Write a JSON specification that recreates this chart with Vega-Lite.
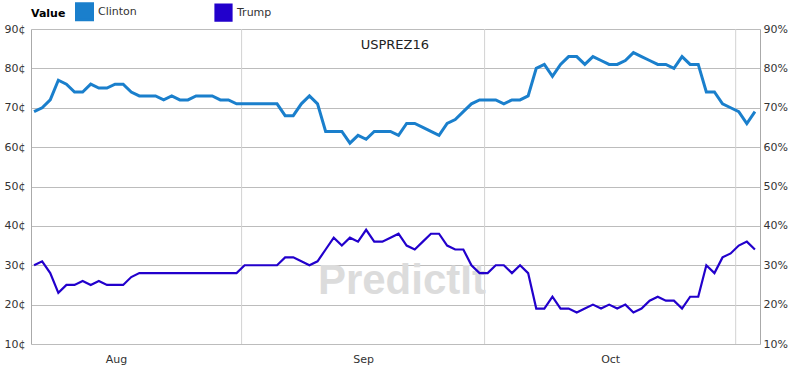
{
  "$schema": "https://vega.github.io/schema/vega-lite/v6.json",
  "width": 729,
  "height": 315,
  "autosize": {"type": "none"},
  "padding": {"left": 31, "top": 29, "right": 33, "bottom": 21},
  "config": {
    "font": "DejaVu Sans",
    "view": {"stroke": null},
    "axis": {"labelFontSize": 11, "labelColor": "#333333", "title": null}
  },
  "datasets": {
    "months": [
      {"date": "2016-09-01T00:00"},
      {"date": "2016-10-01T00:00"},
      {"date": "2016-11-01T00:00"}
    ],
    "prices": [
      {"date": "2016-08-06T09:00", "series": "Clinton", "value": 69},
      {"date": "2016-08-07T09:00", "series": "Clinton", "value": 70},
      {"date": "2016-08-08T09:00", "series": "Clinton", "value": 72},
      {"date": "2016-08-09T09:00", "series": "Clinton", "value": 77},
      {"date": "2016-08-10T09:00", "series": "Clinton", "value": 76},
      {"date": "2016-08-11T09:00", "series": "Clinton", "value": 74},
      {"date": "2016-08-12T09:00", "series": "Clinton", "value": 74},
      {"date": "2016-08-13T09:00", "series": "Clinton", "value": 76},
      {"date": "2016-08-14T09:00", "series": "Clinton", "value": 75},
      {"date": "2016-08-15T09:00", "series": "Clinton", "value": 75},
      {"date": "2016-08-16T09:00", "series": "Clinton", "value": 76},
      {"date": "2016-08-17T09:00", "series": "Clinton", "value": 76},
      {"date": "2016-08-18T09:00", "series": "Clinton", "value": 74},
      {"date": "2016-08-19T09:00", "series": "Clinton", "value": 73},
      {"date": "2016-08-20T09:00", "series": "Clinton", "value": 73},
      {"date": "2016-08-21T09:00", "series": "Clinton", "value": 73},
      {"date": "2016-08-22T09:00", "series": "Clinton", "value": 72},
      {"date": "2016-08-23T09:00", "series": "Clinton", "value": 73},
      {"date": "2016-08-24T09:00", "series": "Clinton", "value": 72},
      {"date": "2016-08-25T09:00", "series": "Clinton", "value": 72},
      {"date": "2016-08-26T09:00", "series": "Clinton", "value": 73},
      {"date": "2016-08-27T09:00", "series": "Clinton", "value": 73},
      {"date": "2016-08-28T09:00", "series": "Clinton", "value": 73},
      {"date": "2016-08-29T09:00", "series": "Clinton", "value": 72},
      {"date": "2016-08-30T09:00", "series": "Clinton", "value": 72},
      {"date": "2016-08-31T09:00", "series": "Clinton", "value": 71},
      {"date": "2016-09-01T09:00", "series": "Clinton", "value": 71},
      {"date": "2016-09-02T09:00", "series": "Clinton", "value": 71},
      {"date": "2016-09-03T09:00", "series": "Clinton", "value": 71},
      {"date": "2016-09-04T09:00", "series": "Clinton", "value": 71},
      {"date": "2016-09-05T09:00", "series": "Clinton", "value": 71},
      {"date": "2016-09-06T09:00", "series": "Clinton", "value": 68},
      {"date": "2016-09-07T09:00", "series": "Clinton", "value": 68},
      {"date": "2016-09-08T09:00", "series": "Clinton", "value": 71},
      {"date": "2016-09-09T09:00", "series": "Clinton", "value": 73},
      {"date": "2016-09-10T09:00", "series": "Clinton", "value": 71},
      {"date": "2016-09-11T09:00", "series": "Clinton", "value": 64},
      {"date": "2016-09-12T09:00", "series": "Clinton", "value": 64},
      {"date": "2016-09-13T09:00", "series": "Clinton", "value": 64},
      {"date": "2016-09-14T09:00", "series": "Clinton", "value": 61},
      {"date": "2016-09-15T09:00", "series": "Clinton", "value": 63},
      {"date": "2016-09-16T09:00", "series": "Clinton", "value": 62},
      {"date": "2016-09-17T09:00", "series": "Clinton", "value": 64},
      {"date": "2016-09-18T09:00", "series": "Clinton", "value": 64},
      {"date": "2016-09-19T09:00", "series": "Clinton", "value": 64},
      {"date": "2016-09-20T09:00", "series": "Clinton", "value": 63},
      {"date": "2016-09-21T09:00", "series": "Clinton", "value": 66},
      {"date": "2016-09-22T09:00", "series": "Clinton", "value": 66},
      {"date": "2016-09-23T09:00", "series": "Clinton", "value": 65},
      {"date": "2016-09-24T09:00", "series": "Clinton", "value": 64},
      {"date": "2016-09-25T09:00", "series": "Clinton", "value": 63},
      {"date": "2016-09-26T09:00", "series": "Clinton", "value": 66},
      {"date": "2016-09-27T09:00", "series": "Clinton", "value": 67},
      {"date": "2016-09-28T09:00", "series": "Clinton", "value": 69},
      {"date": "2016-09-29T09:00", "series": "Clinton", "value": 71},
      {"date": "2016-09-30T09:00", "series": "Clinton", "value": 72},
      {"date": "2016-10-01T09:00", "series": "Clinton", "value": 72},
      {"date": "2016-10-02T09:00", "series": "Clinton", "value": 72},
      {"date": "2016-10-03T09:00", "series": "Clinton", "value": 71},
      {"date": "2016-10-04T09:00", "series": "Clinton", "value": 72},
      {"date": "2016-10-05T09:00", "series": "Clinton", "value": 72},
      {"date": "2016-10-06T09:00", "series": "Clinton", "value": 73},
      {"date": "2016-10-07T09:00", "series": "Clinton", "value": 80},
      {"date": "2016-10-08T09:00", "series": "Clinton", "value": 81},
      {"date": "2016-10-09T09:00", "series": "Clinton", "value": 78},
      {"date": "2016-10-10T09:00", "series": "Clinton", "value": 81},
      {"date": "2016-10-11T09:00", "series": "Clinton", "value": 83},
      {"date": "2016-10-12T09:00", "series": "Clinton", "value": 83},
      {"date": "2016-10-13T09:00", "series": "Clinton", "value": 81},
      {"date": "2016-10-14T09:00", "series": "Clinton", "value": 83},
      {"date": "2016-10-15T09:00", "series": "Clinton", "value": 82},
      {"date": "2016-10-16T09:00", "series": "Clinton", "value": 81},
      {"date": "2016-10-17T09:00", "series": "Clinton", "value": 81},
      {"date": "2016-10-18T09:00", "series": "Clinton", "value": 82},
      {"date": "2016-10-19T09:00", "series": "Clinton", "value": 84},
      {"date": "2016-10-20T09:00", "series": "Clinton", "value": 83},
      {"date": "2016-10-21T09:00", "series": "Clinton", "value": 82},
      {"date": "2016-10-22T09:00", "series": "Clinton", "value": 81},
      {"date": "2016-10-23T09:00", "series": "Clinton", "value": 81},
      {"date": "2016-10-24T09:00", "series": "Clinton", "value": 80},
      {"date": "2016-10-25T09:00", "series": "Clinton", "value": 83},
      {"date": "2016-10-26T09:00", "series": "Clinton", "value": 81},
      {"date": "2016-10-27T09:00", "series": "Clinton", "value": 81},
      {"date": "2016-10-28T09:00", "series": "Clinton", "value": 74},
      {"date": "2016-10-29T09:00", "series": "Clinton", "value": 74},
      {"date": "2016-10-30T09:00", "series": "Clinton", "value": 71},
      {"date": "2016-10-31T09:00", "series": "Clinton", "value": 70},
      {"date": "2016-11-01T09:00", "series": "Clinton", "value": 69},
      {"date": "2016-11-02T09:00", "series": "Clinton", "value": 66},
      {"date": "2016-11-03T09:00", "series": "Clinton", "value": 69},
      {"date": "2016-08-06T09:00", "series": "Trump", "value": 30},
      {"date": "2016-08-07T09:00", "series": "Trump", "value": 31},
      {"date": "2016-08-08T09:00", "series": "Trump", "value": 28},
      {"date": "2016-08-09T09:00", "series": "Trump", "value": 23},
      {"date": "2016-08-10T09:00", "series": "Trump", "value": 25},
      {"date": "2016-08-11T09:00", "series": "Trump", "value": 25},
      {"date": "2016-08-12T09:00", "series": "Trump", "value": 26},
      {"date": "2016-08-13T09:00", "series": "Trump", "value": 25},
      {"date": "2016-08-14T09:00", "series": "Trump", "value": 26},
      {"date": "2016-08-15T09:00", "series": "Trump", "value": 25},
      {"date": "2016-08-16T09:00", "series": "Trump", "value": 25},
      {"date": "2016-08-17T09:00", "series": "Trump", "value": 25},
      {"date": "2016-08-18T09:00", "series": "Trump", "value": 27},
      {"date": "2016-08-19T09:00", "series": "Trump", "value": 28},
      {"date": "2016-08-20T09:00", "series": "Trump", "value": 28},
      {"date": "2016-08-21T09:00", "series": "Trump", "value": 28},
      {"date": "2016-08-22T09:00", "series": "Trump", "value": 28},
      {"date": "2016-08-23T09:00", "series": "Trump", "value": 28},
      {"date": "2016-08-24T09:00", "series": "Trump", "value": 28},
      {"date": "2016-08-25T09:00", "series": "Trump", "value": 28},
      {"date": "2016-08-26T09:00", "series": "Trump", "value": 28},
      {"date": "2016-08-27T09:00", "series": "Trump", "value": 28},
      {"date": "2016-08-28T09:00", "series": "Trump", "value": 28},
      {"date": "2016-08-29T09:00", "series": "Trump", "value": 28},
      {"date": "2016-08-30T09:00", "series": "Trump", "value": 28},
      {"date": "2016-08-31T09:00", "series": "Trump", "value": 28},
      {"date": "2016-09-01T09:00", "series": "Trump", "value": 30},
      {"date": "2016-09-02T09:00", "series": "Trump", "value": 30},
      {"date": "2016-09-03T09:00", "series": "Trump", "value": 30},
      {"date": "2016-09-04T09:00", "series": "Trump", "value": 30},
      {"date": "2016-09-05T09:00", "series": "Trump", "value": 30},
      {"date": "2016-09-06T09:00", "series": "Trump", "value": 32},
      {"date": "2016-09-07T09:00", "series": "Trump", "value": 32},
      {"date": "2016-09-08T09:00", "series": "Trump", "value": 31},
      {"date": "2016-09-09T09:00", "series": "Trump", "value": 30},
      {"date": "2016-09-10T09:00", "series": "Trump", "value": 31},
      {"date": "2016-09-11T09:00", "series": "Trump", "value": 34},
      {"date": "2016-09-12T09:00", "series": "Trump", "value": 37},
      {"date": "2016-09-13T09:00", "series": "Trump", "value": 35},
      {"date": "2016-09-14T09:00", "series": "Trump", "value": 37},
      {"date": "2016-09-15T09:00", "series": "Trump", "value": 36},
      {"date": "2016-09-16T09:00", "series": "Trump", "value": 39},
      {"date": "2016-09-17T09:00", "series": "Trump", "value": 36},
      {"date": "2016-09-18T09:00", "series": "Trump", "value": 36},
      {"date": "2016-09-19T09:00", "series": "Trump", "value": 37},
      {"date": "2016-09-20T09:00", "series": "Trump", "value": 38},
      {"date": "2016-09-21T09:00", "series": "Trump", "value": 35},
      {"date": "2016-09-22T09:00", "series": "Trump", "value": 34},
      {"date": "2016-09-23T09:00", "series": "Trump", "value": 36},
      {"date": "2016-09-24T09:00", "series": "Trump", "value": 38},
      {"date": "2016-09-25T09:00", "series": "Trump", "value": 38},
      {"date": "2016-09-26T09:00", "series": "Trump", "value": 35},
      {"date": "2016-09-27T09:00", "series": "Trump", "value": 34},
      {"date": "2016-09-28T09:00", "series": "Trump", "value": 34},
      {"date": "2016-09-29T09:00", "series": "Trump", "value": 30},
      {"date": "2016-09-30T09:00", "series": "Trump", "value": 28},
      {"date": "2016-10-01T09:00", "series": "Trump", "value": 28},
      {"date": "2016-10-02T09:00", "series": "Trump", "value": 30},
      {"date": "2016-10-03T09:00", "series": "Trump", "value": 30},
      {"date": "2016-10-04T09:00", "series": "Trump", "value": 28},
      {"date": "2016-10-05T09:00", "series": "Trump", "value": 30},
      {"date": "2016-10-06T09:00", "series": "Trump", "value": 28},
      {"date": "2016-10-07T09:00", "series": "Trump", "value": 19},
      {"date": "2016-10-08T09:00", "series": "Trump", "value": 19},
      {"date": "2016-10-09T09:00", "series": "Trump", "value": 22},
      {"date": "2016-10-10T09:00", "series": "Trump", "value": 19},
      {"date": "2016-10-11T09:00", "series": "Trump", "value": 19},
      {"date": "2016-10-12T09:00", "series": "Trump", "value": 18},
      {"date": "2016-10-13T09:00", "series": "Trump", "value": 19},
      {"date": "2016-10-14T09:00", "series": "Trump", "value": 20},
      {"date": "2016-10-15T09:00", "series": "Trump", "value": 19},
      {"date": "2016-10-16T09:00", "series": "Trump", "value": 20},
      {"date": "2016-10-17T09:00", "series": "Trump", "value": 19},
      {"date": "2016-10-18T09:00", "series": "Trump", "value": 20},
      {"date": "2016-10-19T09:00", "series": "Trump", "value": 18},
      {"date": "2016-10-20T09:00", "series": "Trump", "value": 19},
      {"date": "2016-10-21T09:00", "series": "Trump", "value": 21},
      {"date": "2016-10-22T09:00", "series": "Trump", "value": 22},
      {"date": "2016-10-23T09:00", "series": "Trump", "value": 21},
      {"date": "2016-10-24T09:00", "series": "Trump", "value": 21},
      {"date": "2016-10-25T09:00", "series": "Trump", "value": 19},
      {"date": "2016-10-26T09:00", "series": "Trump", "value": 22},
      {"date": "2016-10-27T09:00", "series": "Trump", "value": 22},
      {"date": "2016-10-28T09:00", "series": "Trump", "value": 30},
      {"date": "2016-10-29T09:00", "series": "Trump", "value": 28},
      {"date": "2016-10-30T09:00", "series": "Trump", "value": 32},
      {"date": "2016-10-31T09:00", "series": "Trump", "value": 33},
      {"date": "2016-11-01T09:00", "series": "Trump", "value": 35},
      {"date": "2016-11-02T09:00", "series": "Trump", "value": 36},
      {"date": "2016-11-03T09:00", "series": "Trump", "value": 34}
    ]
  },
  "layer": [
    {
      "data": {"name": "months"},
      "mark": {"type": "rule", "color": "#d2d2d2", "strokeWidth": 1},
      "encoding": {
        "x": {
          "field": "date", "type": "temporal",
          "scale": {"domain": [{"year": 2016, "month": 8, "date": 6}, {"year": 2016, "month": 11, "date": 4}]},
          "axis": {
            "values": [{"year": 2016, "month": 8, "date": 16, "hours": 12}, {"year": 2016, "month": 9, "date": 16}, {"year": 2016, "month": 10, "date": 16, "hours": 12}],
            "format": "%b", "grid": false, "ticks": false, "domain": false, "labelPadding": 9, "title": null
          }
        }
      }
    },
    {
      "data": {"values": [{"label": "PredictIt"}]},
      "mark": {"type": "text", "font": "Liberation Sans", "fontSize": 42, "fontWeight": "bold", "color": "#dcdcdc", "align": "center", "baseline": "middle"},
      "encoding": {
        "text": {"field": "label"},
        "x": {"datum": {"year": 2016, "month": 9, "date": 20, "hours": 19}, "type": "temporal"},
        "y": {
          "datum": 26, "type": "quantitative",
          "scale": {"domain": [10, 90]},
          "axis": {"orient": "right", "values": [10, 20, 30, 40, 50, 60, 70, 80, 90], "labelExpr": "datum.value + '%'", "grid": false, "ticks": false, "domainColor": "#aaaaaa", "labelPadding": 3, "title": null}
        }
      }
    },
    {
      "data": {"name": "prices"},
      "mark": {"type": "line"},
      "encoding": {
        "x": {"field": "date", "type": "temporal"},
        "y": {
          "field": "value", "type": "quantitative",
          "scale": {"domain": [10, 90]},
          "axis": {"orient": "left", "values": [10, 20, 30, 40, 50, 60, 70, 80, 90], "labelExpr": "datum.value + '¢'", "grid": true, "gridColor": "#bcbcbc", "ticks": false, "domainColor": "#aaaaaa", "labelPadding": 6, "title": null}
        },
        "color": {
          "field": "series", "type": "nominal",
          "scale": {"domain": ["Clinton", "Trump"], "range": ["#1a7fcc", "#2200cc"]},
          "legend": {
            "title": "Value", "orient": "top", "direction": "horizontal", "titleOrient": "left",
            "titleFontWeight": "bold", "titleFontSize": 11, "titleColor": "#000000",
            "labelFontSize": 11, "labelColor": "#333333",
            "symbolType": "square", "symbolSize": 256, "symbolStrokeWidth": 0,
            "offset": 3, "columnPadding": 74, "labelOffset": 4, "titlePadding": 9,
            "encode": {"symbols": {"update": {"fill": {"scale": "color", "field": "value"}, "opacity": {"value": 1}}}}
          }
        },
        "strokeWidth": {
          "field": "series", "type": "nominal",
          "scale": {"domain": ["Clinton", "Trump"], "range": [3, 2.2]},
          "legend": null
        }
      }
    },
    {
      "data": {"values": [{"label": "USPREZ16"}]},
      "mark": {"type": "text", "fontSize": 13, "color": "#222222", "align": "center", "baseline": "middle"},
      "encoding": {
        "text": {"field": "label"},
        "x": {"datum": {"year": 2016, "month": 9, "date": 19, "hours": 22}, "type": "temporal"},
        "y": {"datum": 85.9, "type": "quantitative", "axis": null}
      }
    }
  ],
  "resolve": {"axis": {"y": "independent"}}
}
